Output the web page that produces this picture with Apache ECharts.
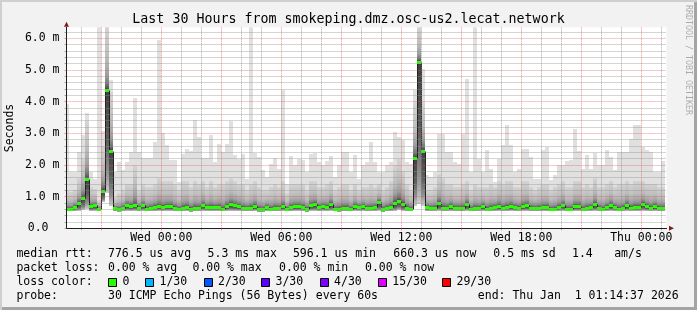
<!DOCTYPE html>
<html>
<head>
<meta charset="utf-8">
<title>smokeping</title>
<script src="https://cdn.jsdelivr.net/npm/echarts@6/dist/echarts.min.js"></script>
<style>
  html, body { margin: 0; padding: 0; background: #f2f2f2; }
  #wrap {
    position: relative; width: 697px; height: 310px; background: #f2f2f2;
    box-shadow: inset 2px 2px 0 #cfcfcf, inset -3px -3px 0 #a4a4a4;
  }
  #chart { position: absolute; left: 0; top: 0; width: 697px; height: 310px; }
</style>
</head>
<body>
<div id="wrap"><div id="chart"></div></div>
<script>
// 12-minute RRD columns, time in hours from Wed 00:00
const colStart = -4.8;
const colStep = 0.2;

// median rtt per column (ms)
const medians = [
  0.62, 0.62, 0.66, 0.81, 0.95, 1.57, 0.70, 0.74, 0.61, 1.19, 4.38, 2.43, 0.63, 0.61, 0.64, 0.73, 0.69, 0.75, 0.63, 0.75, 0.62, 0.63, 0.66, 0.72, 0.66,
  0.69, 0.72, 0.63, 0.62, 0.65, 0.66, 0.61, 0.64, 0.64, 0.74, 0.66, 0.68, 0.67, 0.66, 0.62, 0.71, 0.76, 0.74, 0.69, 0.64, 0.64, 0.64, 0.71, 0.60, 0.60,
  0.67, 0.62, 0.64, 0.63, 0.69, 0.62, 0.66, 0.72, 0.71, 0.67, 0.60, 0.73, 0.78, 0.67, 0.69, 0.67, 0.78, 0.62, 0.61, 0.64, 0.64, 0.62, 0.72, 0.66, 0.69,
  0.63, 0.65, 0.66, 0.83, 0.61, 0.64, 0.67, 0.80, 0.85, 0.77, 0.65, 0.62, 2.22, 5.26, 2.44, 0.67, 0.64, 0.64, 0.79, 0.64, 0.64, 0.72, 0.63, 0.63, 0.63,
  0.76, 0.62, 0.63, 0.63, 0.71, 0.62, 0.64, 0.66, 0.71, 0.63, 0.66, 0.72, 0.66, 0.63, 0.72, 0.74, 0.63, 0.65, 0.65, 0.67, 0.67, 0.62, 0.62, 0.66, 0.75,
  0.62, 0.62, 0.72, 0.72, 0.62, 0.63, 0.66, 0.76, 0.64, 0.62, 0.67, 0.75, 0.66, 0.62, 0.64, 0.73, 0.64, 0.68, 0.68, 0.76, 0.71, 0.65, 0.71, 0.65, 0.65
];
// slowest ping per column (ms)
const maxima = [
  3.94, 1.78, 1.78, 2.41, 2.94, 3.64, 1.78, 1.57, 6.60, 3.06, 6.60, 4.67, 1.78, 2.09, 1.83, 2.09, 2.41, 4.12, 2.41, 2.22, 2.22, 2.22, 2.73, 5.95, 3.00,
  2.62, 2.17, 2.17, 1.46, 2.36, 2.49, 2.43, 3.41, 2.88, 2.22, 2.22, 2.94, 2.09, 2.67, 2.41, 2.67, 3.38, 2.30, 2.20, 2.36, 1.57, 6.60, 2.38, 2.25, 1.83,
  1.62, 2.04, 2.23, 1.88, 4.36, 1.41, 2.27, 1.99, 2.20, 2.15, 1.78, 2.36, 2.38, 2.09, 1.99, 2.12, 2.27, 1.62, 1.99, 2.41, 2.41, 1.78, 2.30, 1.57, 2.00,
  2.09, 2.73, 2.09, 1.78, 1.78, 1.99, 2.09, 3.04, 2.88, 2.78, 2.09, 2.04, 4.36, 6.60, 5.04, 1.67, 1.62, 1.78, 2.99, 2.99, 2.41, 2.41, 2.09, 2.04, 2.99,
  4.73, 1.78, 6.60, 2.20, 1.78, 2.46, 1.88, 1.46, 2.20, 2.62, 3.27, 2.62, 1.78, 1.88, 2.52, 2.52, 2.25, 1.57, 1.57, 2.46, 2.57, 1.52, 1.67, 1.99, 1.99,
  2.12, 2.15, 3.15, 2.43, 1.88, 2.30, 1.88, 2.38, 2.00, 2.00, 2.46, 2.25, 1.83, 2.41, 2.41, 2.41, 2.83, 3.25, 3.25, 2.57, 2.46, 2.41, 1.78, 1.78, 2.12
];
// top of the dense smoke per column (ms)
const uppers = [
  1.20, 1.15, 1.20, 1.60, 2.20, 3.40, 1.30, 1.25, 0.90, 2.60, 6.60, 4.30, 1.00, 1.10, 1.20, 1.40, 1.40, 2.00, 1.20, 1.40, 1.30, 1.30, 1.40, 1.60, 1.50,
  1.50, 1.50, 1.40, 1.20, 1.50, 1.50, 1.30, 1.50, 1.40, 1.50, 1.30, 1.50, 1.30, 1.40, 1.40, 1.50, 1.60, 1.50, 1.40, 1.40, 1.20, 1.40, 1.50, 1.30, 1.20,
  1.20, 1.30, 1.40, 1.30, 1.50, 1.10, 1.40, 1.40, 1.40, 1.40, 1.20, 1.50, 1.50, 1.30, 1.30, 1.40, 1.50, 1.20, 1.30, 1.40, 1.40, 1.20, 1.40, 1.20, 1.30,
  1.30, 1.40, 1.30, 1.40, 1.20, 1.30, 1.50, 2.00, 2.20, 1.80, 1.40, 1.20, 4.00, 6.60, 4.00, 1.20, 1.20, 1.30, 1.70, 1.60, 1.40, 1.40, 1.30, 1.30, 1.40,
  1.50, 1.20, 1.40, 1.30, 1.30, 1.30, 1.40, 1.30, 1.50, 1.40, 1.50, 1.50, 1.30, 1.30, 1.50, 1.50, 1.30, 1.20, 1.30, 1.40, 1.40, 1.20, 1.30, 1.40, 1.50,
  1.30, 1.30, 1.50, 1.50, 1.30, 1.40, 1.30, 1.60, 1.30, 1.30, 1.40, 1.50, 1.30, 1.40, 1.40, 1.50, 1.40, 1.50, 1.50, 1.50, 1.40, 1.40, 1.40, 1.30, 1.30
];
// fastest ping per column (ms)
const minima = [
  0.54, 0.54, 0.55, 0.56, 0.58, 0.62, 0.55, 0.55, 0.54, 0.83, 1.10, 0.70, 0.54, 0.53, 0.54, 0.55, 0.55, 0.55, 0.54, 0.55, 0.54, 0.54, 0.55, 0.55, 0.54,
  0.55, 0.55, 0.54, 0.54, 0.54, 0.55, 0.53, 0.54, 0.54, 0.55, 0.54, 0.55, 0.55, 0.54, 0.54, 0.55, 0.56, 0.55, 0.55, 0.54, 0.54, 0.54, 0.55, 0.53, 0.53,
  0.55, 0.54, 0.54, 0.54, 0.55, 0.54, 0.54, 0.55, 0.55, 0.54, 0.53, 0.55, 0.56, 0.54, 0.55, 0.54, 0.56, 0.54, 0.53, 0.54, 0.54, 0.54, 0.55, 0.54, 0.55,
  0.54, 0.54, 0.54, 0.56, 0.53, 0.54, 0.55, 0.56, 0.57, 0.56, 0.54, 0.54, 0.70, 0.78, 0.72, 0.55, 0.54, 0.54, 0.56, 0.54, 0.54, 0.55, 0.54, 0.54, 0.54,
  0.56, 0.54, 0.54, 0.54, 0.55, 0.54, 0.54, 0.54, 0.55, 0.54, 0.54, 0.55, 0.54, 0.54, 0.55, 0.55, 0.54, 0.54, 0.54, 0.55, 0.55, 0.54, 0.54, 0.54, 0.55,
  0.54, 0.54, 0.55, 0.55, 0.54, 0.54, 0.54, 0.56, 0.54, 0.54, 0.54, 0.55, 0.54, 0.54, 0.54, 0.55, 0.54, 0.55, 0.55, 0.56, 0.55, 0.54, 0.55, 0.54, 0.54
];

// axis ticks
const majorHours = [-3, 0, 3, 6, 9, 12, 15, 18, 21, 24];
const minorHours = [-4, -2, -1, 1, 2, 4, 5, 7, 8, 10, 11, 13, 14, 16, 17, 19, 20, 22, 23, 25];
const labelHours = [0, 6, 12, 18, 24];
const majorMs = [0, 1, 2, 3, 4, 5, 6];
const minorMs = [0.2, 0.4, 0.6, 0.8, 1.2, 1.4, 1.6, 1.8, 2.2, 2.4, 2.6, 2.8, 3.2, 3.4, 3.6, 3.8,
                 4.2, 4.4, 4.6, 4.8, 5.2, 5.4, 5.6, 5.8, 6.2];

// legend text
const titleText = 'Last 30 Hours from smokeping.dmz.osc-us2.lecat.network';
const rttStats = ['median rtt:', '776.5 us avg', '5.3 ms max', '596.1 us min', '660.3 us now', '0.5 ms sd', '1.4', 'am/s'];
const lossStats = ['packet loss:', '0.00 % avg', '0.00 % max', '0.00 % min', '0.00 % now'];
const lossLabels = ['0', '1/30', '2/30', '3/30', '4/30', '15/30', '29/30'];
const lossColors = ['#26ff00', '#00b8ff', '#0059ff', '#5e00ff', '#7e00ff', '#dd00ff', '#ff0000'];
const probeInfo = ['probe:', '30 ICMP Echo Pings (56 Bytes) every 60s', 'end: Thu Jan  1 01:14:37 2026'];

// ---- layout ----
const MONO = '"DejaVu Sans Mono", monospace';
const legendFont = '11.5px ' + MONO;
const rowY = [254.3, 268.3, 282.3, 296.3];
const rttX = [16.4, 108, 207.6, 292.9, 393.3, 493.3, 572, 614.2];
const lossX = [16.4, 108, 192.4, 279, 365];
const boxX = [108, 145, 203.5, 261, 319.6, 377.8, 442];
const probeX = [16.4, 108, 477.8];

const gridCol = 'rgba(143,143,143,0.75)';
const mgridCol = 'rgba(222,79,79,0.6)';
const gridLine = color => ({ color: color, width: 1, type: [1, 1], dashOffset: 0, cap: 'butt' });
const medianCol = lossColors[0];

const xMin = -4.74, xMax = 25.26;

const smokeData = medians.map((m, i) => {
  const t0 = colStart + i * colStep;
  return [t0, t0 + colStep, minima[i], m, uppers[i], maxima[i]];
});
const medianData = medians.map((m, i) => {
  const t0 = colStart + i * colStep;
  return [t0, t0 + colStep, m, i ? medians[i - 1] : m];
});

function clipBox(params, x0, y0, x1, y1) {
  const cs = params.coordSys;
  return echarts.graphic.clipRectByRect(
    { x: x0, y: y0, width: x1 - x0, height: y1 - y0 },
    { x: cs.x, y: cs.y, width: cs.width, height: cs.height }
  );
}

function renderSmoke(params, api) {
  const t0 = api.value(0), t1 = api.value(1);
  const lo = api.value(2), med = api.value(3), up = api.value(4), hi = api.value(5);
  const band = (v0, v1, fill) => {
    if (v1 <= v0) return null;
    const a = api.coord([t0, v1]), b = api.coord([t1, v0]);
    const r = clipBox(params, Math.round(a[0]), Math.round(a[1]), Math.round(b[0]), Math.round(b[1]));
    return r ? { type: 'rect', shape: r, style: { fill: fill } } : null;
  };
  const upperFill = new echarts.graphic.LinearGradient(0, 0, 0, 1, [
    { offset: 0, color: '#d4d4d4' },
    { offset: 0.5, color: '#bcbcbc' },
    { offset: 0.78, color: '#9c9c9c' },
    { offset: 0.92, color: '#707070' },
    { offset: 1, color: '#404040' }
  ]);
  const lowerFill = new echarts.graphic.LinearGradient(0, 0, 0, 1, [
    { offset: 0, color: '#404040' },
    { offset: 0.5, color: '#5e5e5e' },
    { offset: 0.8, color: '#909090' },
    { offset: 1, color: '#cccccc' }
  ]);
  const children = [
    band(up, hi, '#e0e0e0'),
    band(med, up, upperFill),
    band(lo, med, lowerFill)
  ].filter(Boolean);
  return { type: 'group', children: children };
}

function renderMedian(params, api) {
  const t0 = api.value(0), t1 = api.value(1), med = api.value(2), prev = api.value(3);
  const cs = params.coordSys;
  const a = api.coord([t0, med]), b = api.coord([t1, med]), p = api.coord([t0, prev]);
  const x0 = Math.max(Math.round(a[0]), Math.ceil(cs.x)), x1 = Math.min(Math.round(b[0]), cs.x + cs.width);
  const row = Math.round(a[1]);
  const children = [];
  if (x0 > cs.x) {
    children.push({ type: 'line', shape: { x1: x0 + 0.5, y1: Math.round(p[1]) + 0.5, x2: x0 + 0.5, y2: row + 0.5 },
      style: { stroke: '#202020', lineWidth: 1 } });
  }
  children.push({ type: 'line', shape: { x1: x0, y1: row + 0.5, x2: x1, y2: row + 0.5 },
    style: { stroke: '#202020', lineWidth: 1 } });
  children.push({ type: 'rect', shape: { x: x0, y: row - 1, width: x1 - x0, height: 3 },
    style: { fill: medianCol } });
  return { type: 'group', children: children };
}

function text(x, y, s, extra) {
  const el = {
    type: 'text', x: x, y: y, silent: true,
    style: { text: s, font: legendFont, fill: '#000', textAlign: 'left', align: 'left',
             textVerticalAlign: 'middle', verticalAlign: 'middle' }
  };
  if (extra) {
    Object.assign(el.style, extra.style || {});
    if (extra.rotation != null) el.rotation = extra.rotation;
  }
  return el;
}

const graphics = [];
graphics.push(text(348.5, 20, titleText, { style: { font: '13.3px ' + MONO, textAlign: 'center', align: 'center' } }));
graphics.push(text(10.5, 128, 'Seconds', { rotation: Math.PI / 2, style: { textAlign: 'center', align: 'center' } }));
graphics.push(text(688, 60, 'RRDTOOL / TOBI OETIKER', { rotation: -Math.PI / 2,
  style: { font: '8.3px ' + MONO, fill: 'rgba(0,0,0,0.3)', textAlign: 'center', align: 'center' } }));
rttStats.forEach((s, i) => graphics.push(text(rttX[i], rowY[0], s)));
lossStats.forEach((s, i) => graphics.push(text(lossX[i], rowY[1], s)));
graphics.push(text(16.4, rowY[2], 'loss color:'));
lossLabels.forEach((s, i) => {
  graphics.push({ type: 'rect', silent: true,
    shape: { x: Math.round(boxX[i]) + 0.5, y: 278.5, width: 8, height: 8 },
    style: { fill: lossColors[i], stroke: '#000', lineWidth: 1 } });
  graphics.push(text(boxX[i] + 14.5, rowY[2], s));
});
probeInfo.forEach((s, i) => graphics.push(text(probeX[i], rowY[3], s)));

const hourLabel = v => (v >= 24 ? 'Thu ' : 'Wed ') + String(v % 24).padStart(2, '0') + ':00';
const msLabel = v => (v === 0 ? '{z|0.0}' : v.toFixed(1) + ' m');

const labelStyle = { fontFamily: MONO, fontSize: 11.5, color: '#000' };

const option = {
  backgroundColor: 'transparent',
  animation: false,
  grid: { left: 66.5, right: 30.5, top: 27.3, bottom: 81.7, show: true, backgroundColor: '#ffffff', borderWidth: 0 },
  xAxis: [
    { // main axis: 3-hour grid, labels, black line
      type: 'value', min: xMin, max: xMax, position: 'bottom', z: 4,
      axisLine: { show: true, onZero: false, lineStyle: { color: '#1f1f1f', width: 1 } },
      axisTick: { show: true, customValues: majorHours, length: 2, lineStyle: { color: mgridCol } },
      axisLabel: Object.assign({ customValues: labelHours, formatter: hourLabel, margin: 4 }, labelStyle),
      splitLine: { show: true, lineStyle: gridLine(mgridCol) }
    },
    { // hourly grid
      type: 'value', min: xMin, max: xMax, position: 'bottom', z: 3,
      axisLine: { show: false, onZero: false },
      axisTick: { show: true, customValues: minorHours, length: 2, lineStyle: { color: gridCol } },
      axisLabel: { show: false },
      splitLine: { show: true, lineStyle: gridLine(gridCol) }
    },
    { // arrow
      type: 'value', min: xMin, max: xMax, position: 'bottom', z: 3,
      axisLine: { show: true, onZero: false, symbol: ['none', 'triangle'], symbolSize: [5, 5], symbolOffset: [0, 5],
                  lineStyle: { color: '#801f1f' } },
      axisTick: { show: false }, axisLabel: { show: false }, splitLine: { show: false }
    }
  ],
  yAxis: [
    {
      type: 'value', min: 0, max: 6.35, position: 'left', z: 4,
      axisLine: { show: true, onZero: false, lineStyle: { color: '#1f1f1f', width: 1 } },
      axisTick: { show: true, customValues: majorMs, length: 2, lineStyle: { color: mgridCol } },
      axisLabel: Object.assign({ customValues: majorMs, formatter: msLabel, margin: 7,
        rich: { z: Object.assign({ padding: [0, 11, 0, 0] }, labelStyle) } }, labelStyle),
      splitLine: { show: true, lineStyle: gridLine(mgridCol) }
    },
    {
      type: 'value', min: 0, max: 6.35, position: 'left', z: 3,
      axisLine: { show: false, onZero: false },
      axisTick: { show: true, customValues: minorMs, length: 2, lineStyle: { color: gridCol } },
      axisLabel: { show: false },
      splitLine: { show: true, lineStyle: gridLine(gridCol) }
    },
    {
      type: 'value', min: 0, max: 6.35, position: 'left', z: 3,
      axisLine: { show: true, onZero: false, symbol: ['none', 'triangle'], symbolSize: [5, 5], symbolOffset: [0, 3],
                  lineStyle: { color: '#801f1f' } },
      axisTick: { show: false }, axisLabel: { show: false }, splitLine: { show: false }
    }
  ],
  graphic: graphics,
  series: [
    {
      type: 'custom', name: 'smoke', xAxisIndex: 0, yAxisIndex: 0, z: 1, silent: true,
      renderItem: renderSmoke, data: smokeData
    },
    {
      type: 'custom', name: 'median rtt', xAxisIndex: 0, yAxisIndex: 0, z: 2, silent: true,
      renderItem: renderMedian, data: medianData
    }
  ]
};

const chart = echarts.init(document.getElementById('chart'));
chart.setOption(option);
window.addEventListener('resize', () => chart.resize());
</script>
</body>
</html>
